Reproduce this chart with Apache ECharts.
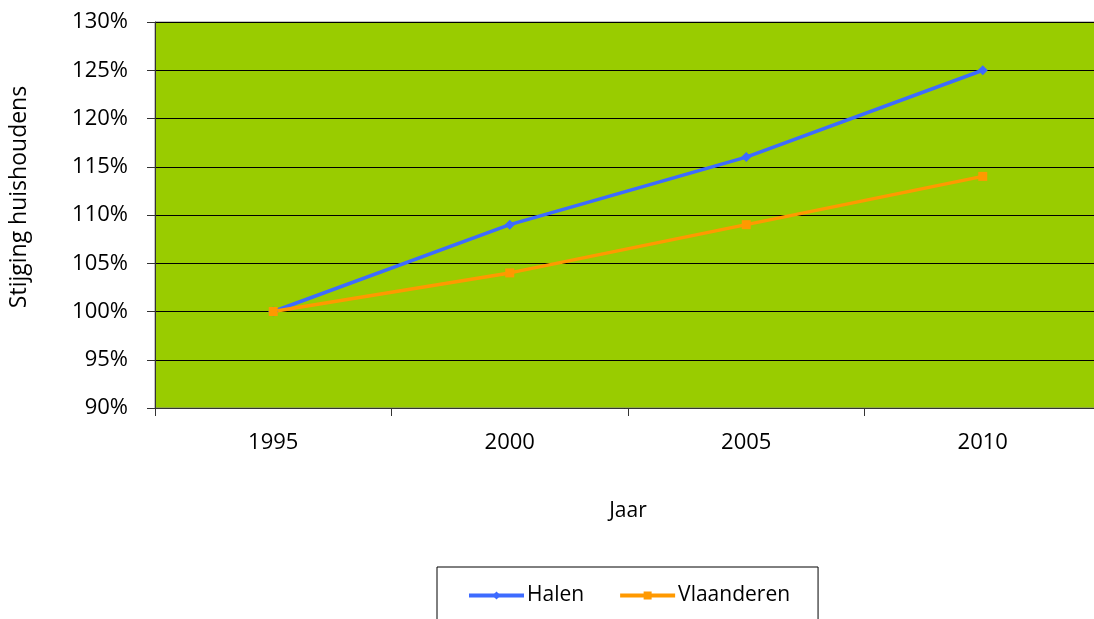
<!DOCTYPE html>
<html>
<head>
<meta charset="utf-8">
<script src="https://cdn.jsdelivr.net/npm/echarts@6/dist/echarts.min.js"></script>
<style>
  html, body { margin: 0; padding: 0; background: #fff; }
  #chart { width: 1094px; height: 619px; }
</style>
</head>
<body>
<div id="chart"></div>
<script>
// jaren en stijging (in %)
const years = ['1995', '2000', '2005', '2010']
const halen = [100, 109, 116, 125]
const vlaanderen = [100, 104, 109, 114]

const font = '"Open Sans", "Liberation Sans", sans-serif'

const chart = echarts.init(document.getElementById('chart'))
chart.setOption({
  animation: false,
  textStyle: { fontFamily: font, color: '#000' },
  grid: {
    left: 155,
    top: 22,
    width: 946,
    bottom: 211,
    outerBoundsMode: 'none',
    show: true,
    backgroundColor: '#99CC00',
    borderColor: '#888',
    borderWidth: 1
  },
  legend: {
    left: 437,
    top: 567,
    width: 381,
    padding: [18, 28, 30, 30],
    borderColor: '#000',
    borderWidth: 1,
    itemWidth: 55,
    itemHeight: 10,
    itemGap: 34,
    lineStyle: { width: 4 },
    textStyle: { fontSize: 21, fontFamily: font, color: '#000', padding: [0, 0, 0, -2] },
    data: ['Halen', 'Vlaanderen']
  },
  xAxis: {
    type: 'category',
    data: years,
    boundaryGap: true,
    name: 'Jaar',
    nameLocation: 'middle',
    nameGap: 93,
    nameTextStyle: { fontSize: 21, fontFamily: font, color: '#000' },
    axisLine: { lineStyle: { color: '#333', width: 1 } },
    axisTick: { show: true, alignWithLabel: false, length: 8, lineStyle: { color: '#333' } },
    axisLabel: { fontSize: 22, margin: 24, color: '#000', fontFamily: font },
    splitLine: { show: false }
  },
  yAxis: {
    type: 'value',
    min: 90,
    max: 130,
    interval: 5,
    name: 'Stijging huishoudens',
    nameLocation: 'middle',
    nameGap: 124,
    nameTextStyle: { fontSize: 23, fontFamily: font, color: '#000', padding: [0, 0, 0, 36] },
    axisLine: { show: true, lineStyle: { color: '#333', width: 1 } },
    axisTick: { show: true, length: 8, lineStyle: { color: '#333' } },
    axisLabel: { fontSize: 22, margin: 27, color: '#000', fontFamily: font, formatter: '{value}%' },
    splitLine: { show: true, lineStyle: { color: '#000', width: 1 } }
  },
  series: [
    {
      name: 'Halen',
      type: 'line',
      data: halen,
      symbol: 'diamond',
      symbolSize: 10,
      color: '#3D6BFF',
      lineStyle: { width: 3.5, color: '#3D6BFF' },
      itemStyle: { color: '#3D6BFF' }
    },
    {
      name: 'Vlaanderen',
      type: 'line',
      data: vlaanderen,
      symbol: 'rect',
      symbolSize: 9,
      color: '#FF9900',
      lineStyle: { width: 3.5, color: '#FF9900' },
      itemStyle: { color: '#FF9900' }
    }
  ]
})
</script>
</body>
</html>
